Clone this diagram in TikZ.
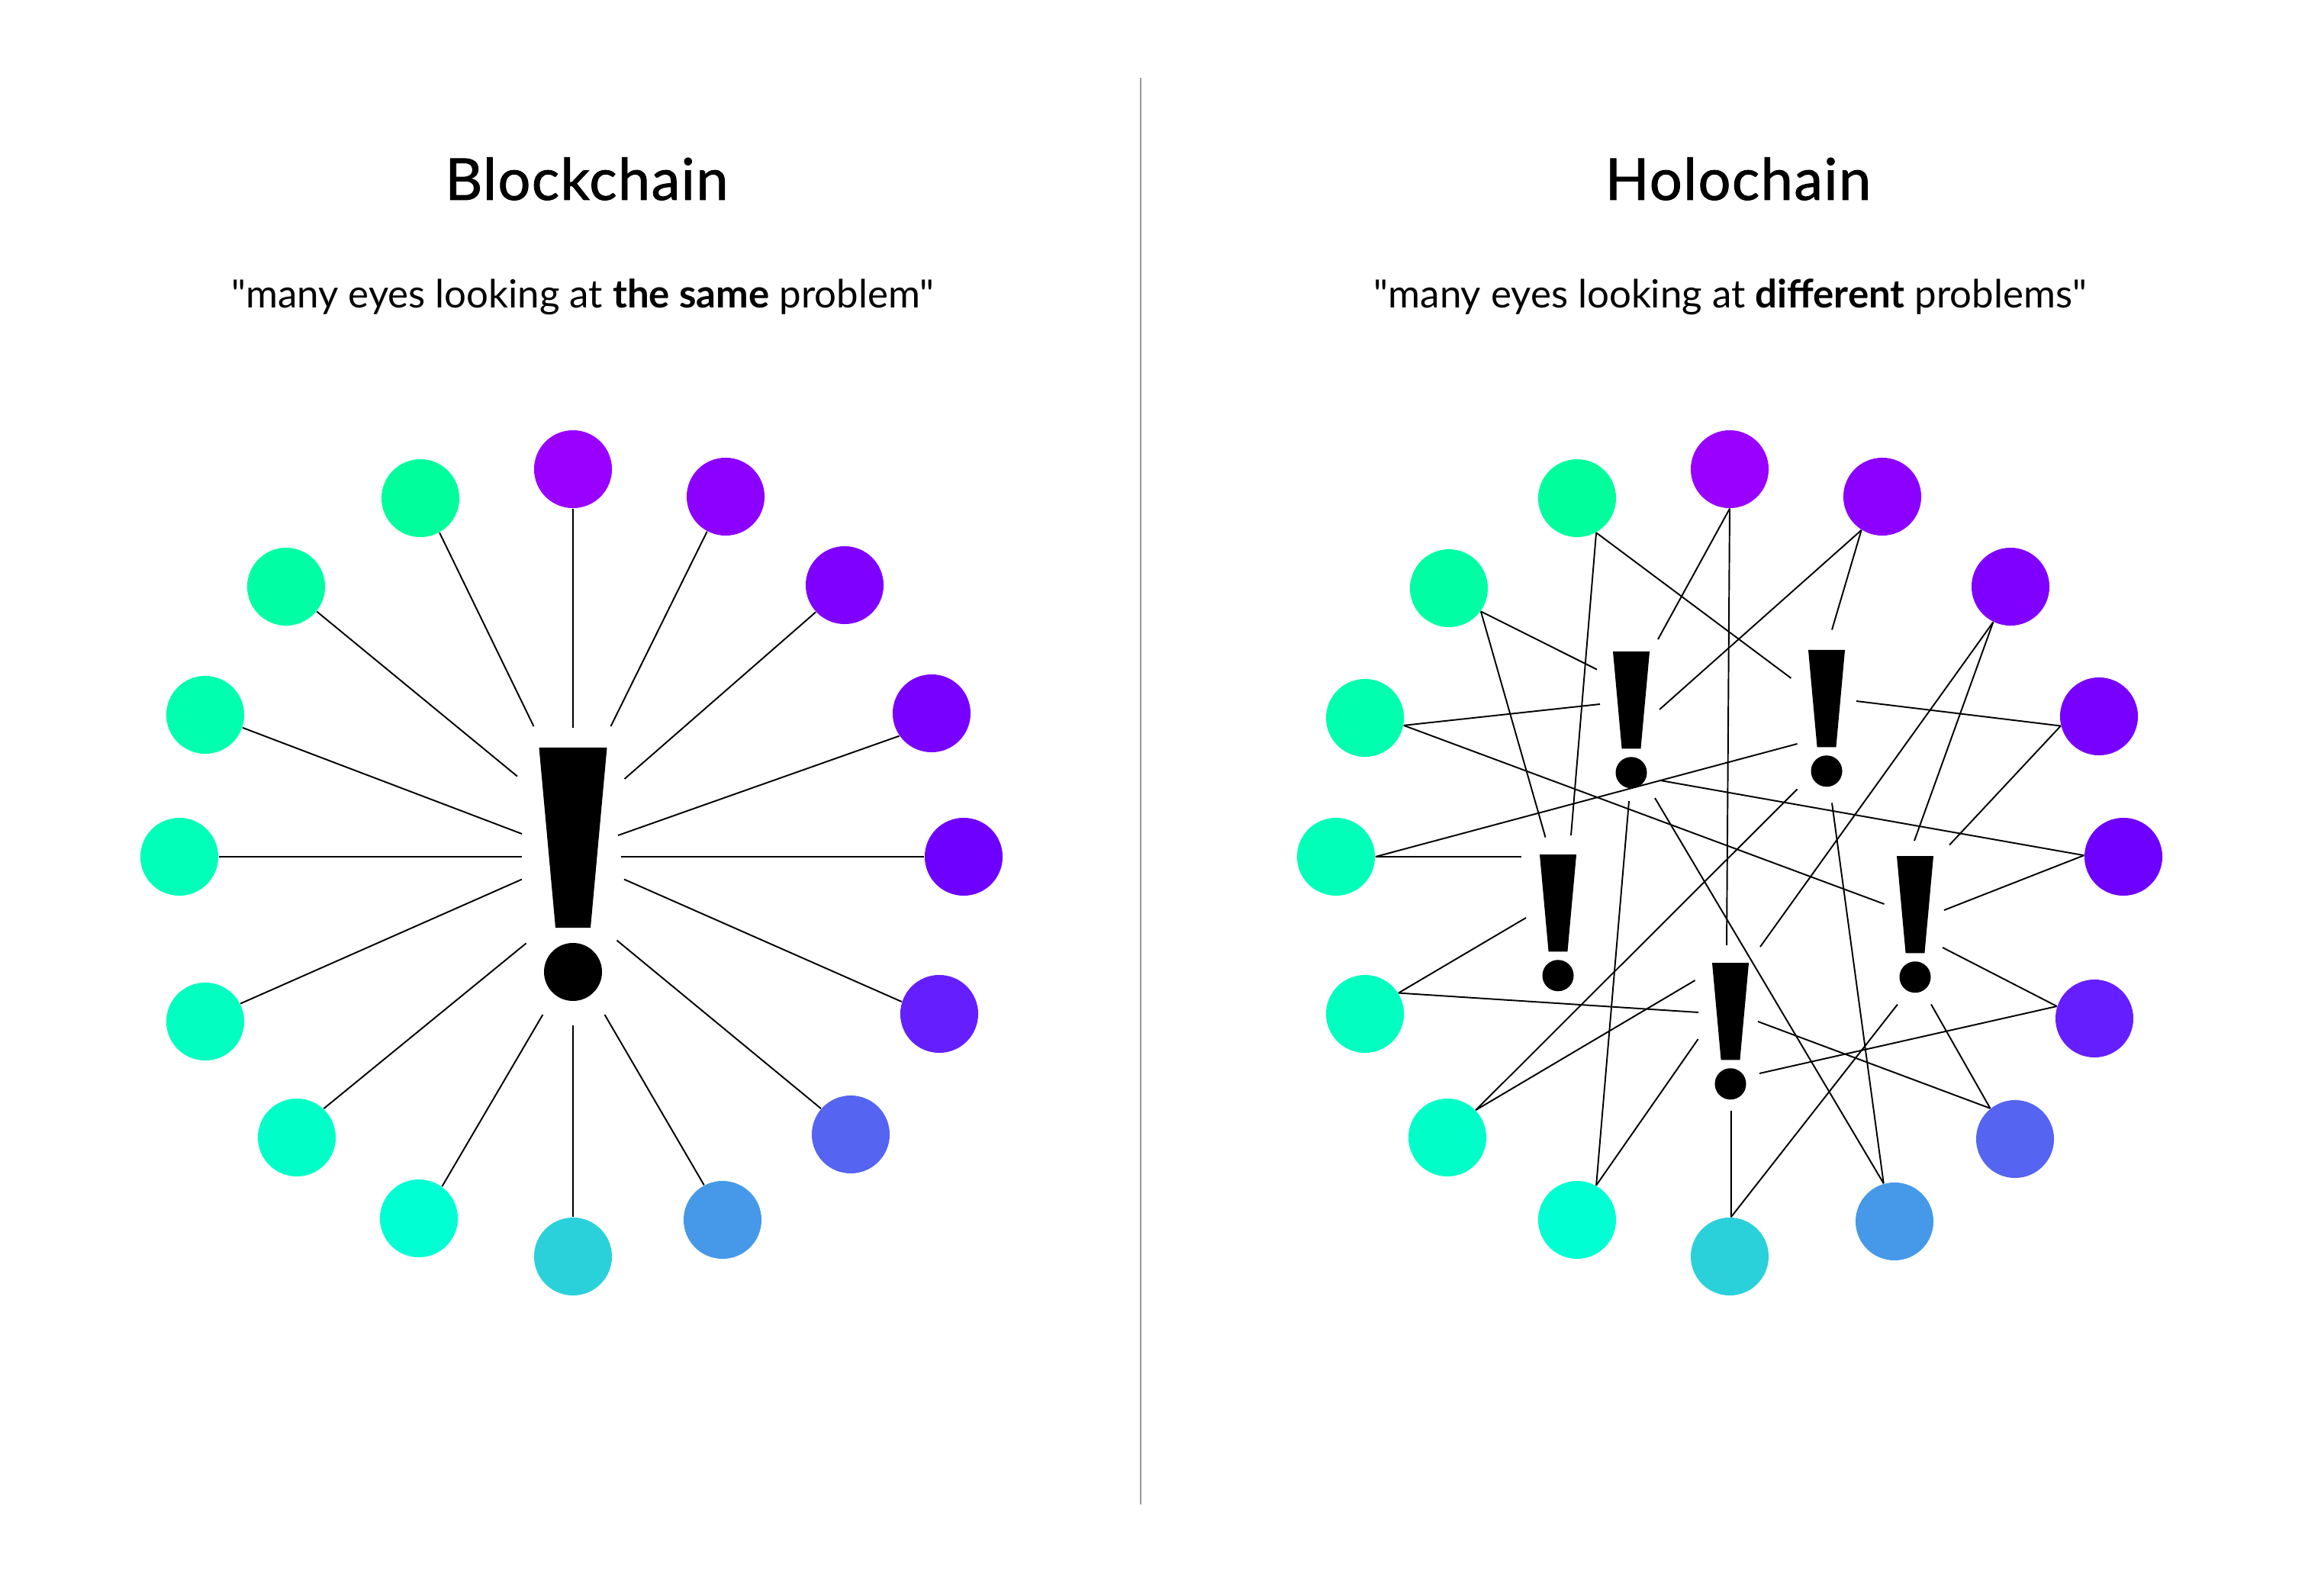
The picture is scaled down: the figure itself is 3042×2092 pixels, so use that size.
\documentclass[tikz,border=0pt]{standalone}
\usepackage{fontspec}
\setmainfont{Lato}
\newfontfamily\titlefont[FakeBold=1.2,LetterSpace=2]{Lato}
\newfontfamily\quotefont{Lato}

% Ring colours, clockwise from the top
\definecolor{ring1}{HTML}{9900FF}
\definecolor{ring2}{HTML}{8C00FF}
\definecolor{ring3}{HTML}{8000FF}
\definecolor{ring4}{HTML}{7800FF}
\definecolor{ring5}{HTML}{6E00FF}
\definecolor{ring6}{HTML}{651FFF}
\definecolor{ring7}{HTML}{5664F2}
\definecolor{ring8}{HTML}{4599E8}
\definecolor{ring9}{HTML}{2AD1DB}
\definecolor{ring10}{HTML}{00FFD3}
\definecolor{ring11}{HTML}{00FFC8}
\definecolor{ring12}{HTML}{00FFC0}
\definecolor{ring13}{HTML}{00FFB8}
\definecolor{ring14}{HTML}{00FFAE}
\definecolor{ring15}{HTML}{00FFA5}
\definecolor{ring16}{HTML}{00FF9C}

\tikzset{
	eye/.style={circle, inner sep=0pt, minimum size=1.02cm},
	look/.style={line width=0.55pt, black},
	heading/.style={anchor=base, font=\titlefont\fontsize{21.5}{24}\selectfont},
	quotation/.style={anchor=base, font=\quotefont\fontsize{14.5}{17}\selectfont},
	pics/alert/.style={code={
		\fill[black] (-44.5,0) -- (44.5,0) -- (23,236) -- (-23,236) -- cycle;
		\fill[black] (0,294) circle[radius=38];
	}}
}

\begin{document}
\begin{tikzpicture}[x=0.01cm,y=-0.01cm]
	\useasboundingbox (0,0) rectangle (3042,2092);

	% Divider
	\draw[line width=0.7pt, color=black!40] (1495,102) -- (1495,1972);

	% Headings
	\node[heading] (titleL) at (769,262) {Blockchain};
	\node[heading] (titleR) at (2278,262) {Holochain};
	\node[quotation] (quoteL) at (764,404) {"many eyes looking at \textbf{the same} problem"};
	\node[quotation] (quoteR) at (2268,404) {"many eyes looking at \textbf{different} problems"};

	% Left ring, all looking at one problem
	\pic at (751,980) {alert};
	\foreach \name/\x/\y/\ang/\ex/\ey [count=\i] in {
		L1/751/615/270/751/954, L2/951/651/242.9/800.5/952, L3/1107/767/223.4/818.5/1021,
		L4/1221/935/215.5/810/1095, L5/1263/1123/180/814/1123, L6/1231/1329/162/818/1152.6,
		L7/1115/1487/139.4/808.5/1232.6, L8/947/1599/118.6/792.5/1330, L9/751/1647/90/751/1344,
		L10/549/1597/54.4/711.4/1330, L11/389/1491/47.3/689.6/1236.4, L12/269/1339/27.8/684/1152.6,
		L13/235/1123/0/684/1123, L14/269/937/-19.7/684/1093, L15/375/769/-39.6/678/1017.6,
		L16/551/653/-61/699.5/952}
	{
		\node[eye, fill=ring\i] (\name) at (\x,\y) {};
		\coordinate (\name-end) at (\ex,\ey);
		\draw[look] (\name.\ang) -- (\name-end);
	}

	% Right ring, five problems
	\foreach \x/\y in {2138/854, 2394/852, 2042/1120, 2510/1122, 2268/1262}
		\pic[scale=0.54] at (\x,\y) {alert};
	\foreach \name/\x/\y/\ang/\ax/\ay/\bx/\by [count=\i] in {
		R1/2267/615/270/2173/838/2263/1239,
		R2/2467/651/238.5/2175/930/2401/825.5,
		R3/2635/769/244/2509/1102/2307/1241,
		R4/2751/939/194/2433/919/2555/1107.6,
		R5/2783/1123/178/2176/1023/2548/1193,
		R6/2745/1335/162/2546/1242/2306/1407,
		R7/2641/1493/129/2304/1339/2531/1316.5,
		R8/2483/1601/106/2169/1046/2401/1052.5,
		R9/2267/1647/88/2268.8/1456/2487/1316.5,
		R10/2067/1599/61/2135/1050/2225.6/1362,
		R11/1897/1491/44.5/2221.6/1285/2355.5/1034.5,
		R12/1789/1329/32.5/2000/1203/2226/1327,
		R13/1751/1123/0/1994/1123/2355.5/975,
		R14/1789/941/-11/2097/923/2469.5/1185,
		R15/1899/771/-36.6/2093/877.6/2025.5/1097.6,
		R16/2067/653/-61/2059/1095/2347.5/889}
	{
		\node[eye, fill=ring\i] (\name) at (\x,\y) {};
		\coordinate (\name-a) at (\ax,\ay);
		\coordinate (\name-b) at (\bx,\by);
		\draw[look] (\name.\ang) -- (\name-a);
		\draw[look] (\name.\ang) -- (\name-b);
	}
\end{tikzpicture}
\end{document}
